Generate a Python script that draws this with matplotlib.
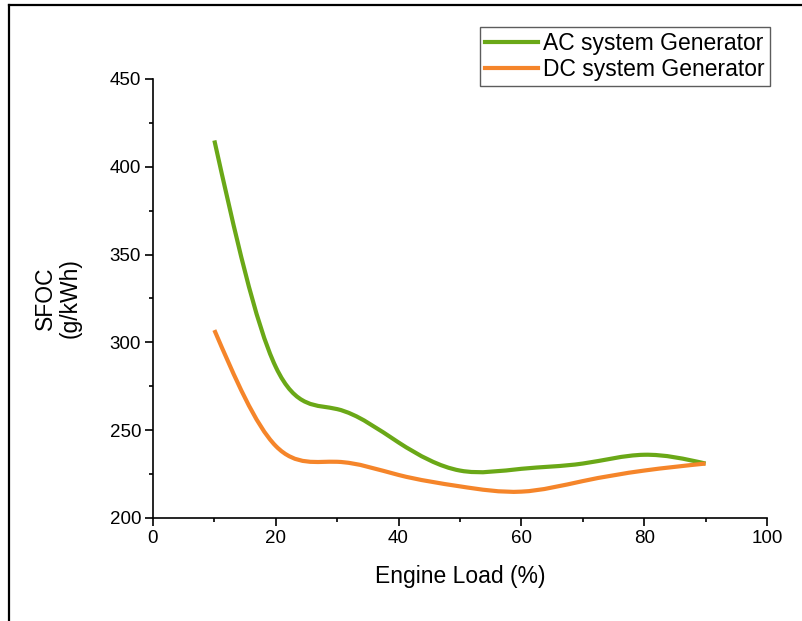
import numpy as np
import matplotlib
matplotlib.use('Agg')
import matplotlib.pyplot as plt
from matplotlib.path import Path
from matplotlib.patches import PathPatch
from matplotlib.lines import Line2D

plt.rcParams['font.family'] = ['Liberation Sans', 'DejaVu Sans']

load = [10, 20, 30, 40, 50, 60, 70, 80, 90]
ac_sfoc = [415, 286, 262, 243, 227, 228, 231, 236, 231]
dc_sfoc = [307, 241, 232, 224.5, 218, 215, 221, 227, 231]
series_names = ['AC system Generator', 'DC system Generator']
colors = ['#6aa817', '#f5852a']


def spline_path(x, y):
    # natural cubic spline slopes, drawn as bezier segments
    x = np.asarray(x, float)
    y = np.asarray(y, float)
    n = len(x)
    h = np.diff(x)
    A = np.zeros((n, n))
    b = np.zeros(n)
    A[0, 0] = 2 / h[0]; A[0, 1] = 1 / h[0]
    b[0] = 3 * (y[1] - y[0]) / h[0] ** 2
    A[-1, -2] = 1 / h[-1]; A[-1, -1] = 2 / h[-1]
    b[-1] = 3 * (y[-1] - y[-2]) / h[-1] ** 2
    for i in range(1, n - 1):
        A[i, i - 1] = 1 / h[i - 1]
        A[i, i] = 2 / h[i - 1] + 2 / h[i]
        A[i, i + 1] = 1 / h[i]
        b[i] = 3 * ((y[i] - y[i - 1]) / h[i - 1] ** 2 + (y[i + 1] - y[i]) / h[i] ** 2)
    m = np.linalg.solve(A, b)
    verts = [(x[0], y[0])]
    codes = [Path.MOVETO]
    for i in range(n - 1):
        d = h[i] / 3
        verts += [(x[i] + d, y[i] + d * m[i]),
                  (x[i + 1] - d, y[i + 1] - d * m[i + 1]),
                  (x[i + 1], y[i + 1])]
        codes += [Path.CURVE4] * 3
    return Path(verts, codes)


fig = plt.figure(figsize=(8.03, 6.21), dpi=100)
ax = fig.add_axes([0.1905, 0.1659, 0.7646, 0.7069])

for yv, c in zip([ac_sfoc, dc_sfoc], colors):
    ax.add_patch(PathPatch(spline_path(load, yv), facecolor='none',
                           edgecolor=c, lw=3, capstyle='butt'))

ax.set_xlim(0, 100)
ax.set_ylim(200, 450)
ax.set_xticks([0, 20, 40, 60, 80, 100])
ax.set_xticks(np.arange(10, 100, 20), minor=True)
ax.set_yticks([200, 250, 300, 350, 400, 450])
ax.set_yticks(np.arange(225, 450, 50), minor=True)
ax.spines['top'].set_visible(False)
ax.spines['right'].set_visible(False)
for s in ['left', 'bottom']:
    ax.spines[s].set_linewidth(1.2)
ax.tick_params(which='major', length=5.5, width=1.2, labelsize=13.5, pad=3)
ax.tick_params(which='minor', length=3, width=1.2)

ax.set_xlabel('Engine Load (%)', fontsize=16.5)
ax.xaxis.set_label_coords(0.5, -0.134)
ax.xaxis.label.set_va('center')
ax.set_ylabel('SFOC\n(g/kWh)', fontsize=16.5, linespacing=1.1)
ax.yaxis.set_label_coords(-0.155, 0.5)
ax.yaxis.label.set_va('center')

handles = [Line2D([], [], color=c, lw=3) for c in colors]
leg = ax.legend(handles, series_names, loc='upper right', fontsize=16.5,
                bbox_to_anchor=(1.005, 1.118), frameon=True, fancybox=False,
                borderpad=0.22, handlelength=2.3, handletextpad=0.25,
                labelspacing=0.14, borderaxespad=0)
leg.get_frame().set_edgecolor('#333333')
leg.get_frame().set_linewidth(1.0)

# outer frame lines (left and top)
fig.add_artist(Line2D([9 / 803, 9 / 803], [0, 1 - 5 / 621], color='black', lw=1.6,
                      transform=fig.transFigure))
fig.add_artist(Line2D([9 / 803, 1], [1 - 5 / 621, 1 - 5 / 621], color='black', lw=1.6,
                      transform=fig.transFigure))

fig.savefig('out.png', dpi=100)
